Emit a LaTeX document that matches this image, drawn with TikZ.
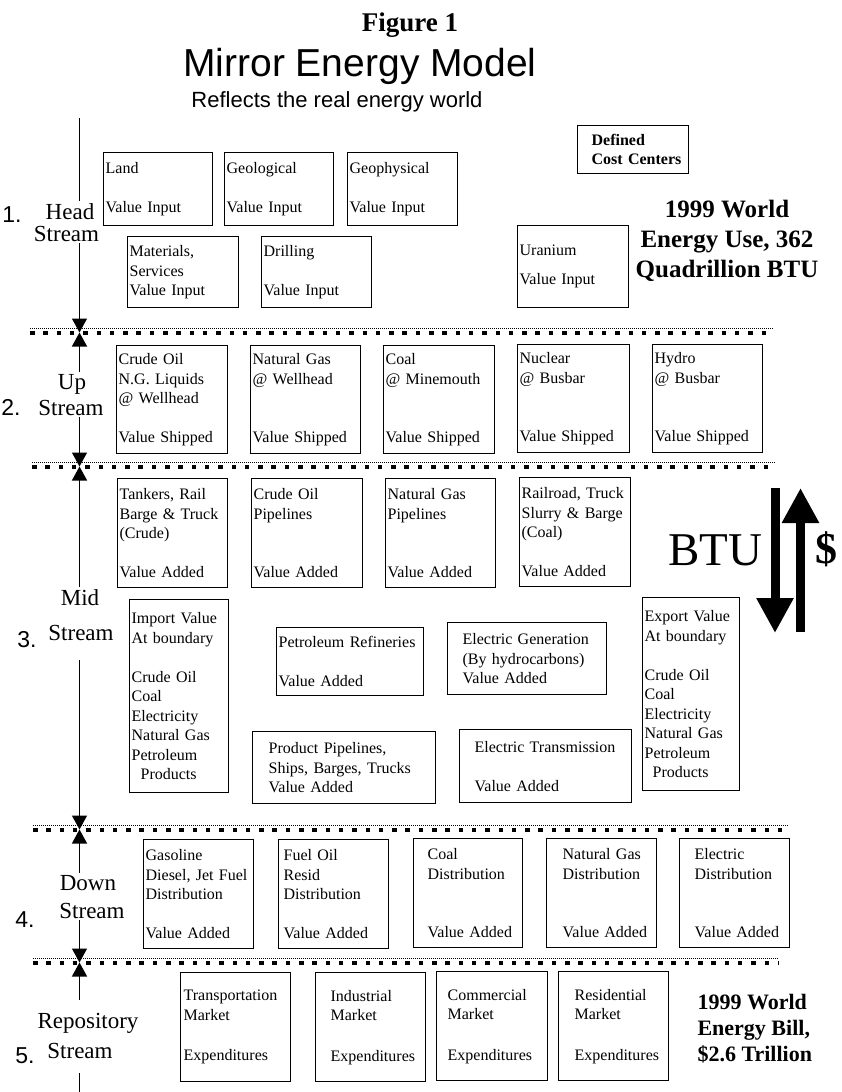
\documentclass[tikz,border=0pt]{standalone}
\usepackage{fontspec}
\setmainfont{Liberation Serif}
\newfontfamily\sansf{Liberation Sans}
\usetikzlibrary{arrows.meta}
\newcommand{\boxfont}{\fontsize{16}{19.5}\selectfont}
\newcommand{\lblfont}{\fontsize{23}{26}\selectfont}
\newcommand{\numfont}{\sansf\fontsize{23}{26}\selectfont}

\begin{document}
\begin{tikzpicture}[x=1pt, y=-1pt,
  cc/.style={draw, line width=1.3pt, anchor=north west, inner xsep=2pt, inner ysep=0pt,
             align=left, text width=106pt, minimum height=109pt, font=\boxfont},
  ind/.style={execute at begin node={\leftskip=#1}},
  lbl/.style={anchor=base, inner sep=2pt, font=\lblfont},
  num/.style={anchor=base, inner sep=2pt, font=\numfont},
  flow/.style={line width=1.3pt, -{Triangle[width=15pt,length=14pt]}},
  fat/.style={line width=9pt, -{Triangle[width=35pt,length=35pt]}},
  dotline/.style={line width=0.8pt, dash pattern=on 0.8pt off 1.2pt},
  sqline/.style={line width=4.5pt, dash pattern=on 4.5pt off 8.8pt}
]
\useasboundingbox (0,0) rectangle (841,1092);

% titles
\node[font=\bfseries\fontsize{27}{30}\selectfont, anchor=base] (fig) at (410,31) {Figure 1};
\node[font=\sansf\fontsize{39}{44}\selectfont, anchor=base] (ttl) at (360,76) {Mirror Energy Model};
\node[font=\sansf\fontsize{22}{26}\selectfont, anchor=base] (sub) at (337,107) {Reflects the real energy world};

% separators between streams
\foreach \y/\xa/\xb/\nm in {333/30/773/s1, 467/32/775/s2, 830/33/788/s3, 963/33/778/s4} {
  \draw[dotline] (\xa,\y-4.5) -- (\xb,\y-4.5);
  \draw[sqline] (\xa,\y) -- (\xb,\y);
  \coordinate (\nm) at (79.5,\y-0.5);
}

% 1. head stream
\node[cc, text width=105pt, minimum height=73pt] (land) at (103,152) {Land\\[19pt]Value Input};
\node[cc, text width=105pt, minimum height=73pt] (geol) at (224,152) {Geological\\[19pt]Value Input};
\node[cc, minimum height=73pt] (geoph) at (347,152) {Geophysical\\[19pt]Value Input};
\node[cc, text width=107pt, minimum height=71pt] (mat) at (127,236) {Materials,\\Services\\Value Input};
\node[cc, minimum height=71pt] (drill) at (261,236) {Drilling\\[19pt]Value Input};
\node[cc, text width=107pt, minimum height=82pt] (uran) at (517,225) {Uranium\\[10pt]Value Input};
\node[cc, ind=12pt, text width=107pt, minimum height=48pt, font=\boxfont\bfseries] (defcc) at (577,125) {Defined\\Cost Centers};
\node[font=\bfseries\fontsize{25}{30}\selectfont, align=center] (use) at (727,241) {1999 World\\Energy Use, 362\\Quadrillion BTU};

% 2. up stream
\node[cc, text width=107pt, minimum height=108pt] (crude) at (116,345) {Crude Oil\\N.G. Liquids\\@ Wellhead\\[19.5pt]Value Shipped};
\node[cc, minimum height=108pt] (natgas) at (250,345) {Natural Gas\\@ Wellhead\\[39pt]Value Shipped};
\node[cc, text width=107pt, minimum height=108pt] (coal) at (383,345) {Coal\\@ Minemouth\\[39pt]Value Shipped};
\node[cc, text width=108pt, minimum height=108pt] (nuclear) at (517,344) {Nuclear\\@ Busbar\\[39pt]Value Shipped};
\node[cc, minimum height=108pt] (hydro) at (652,344) {Hydro\\@ Busbar\\[39pt]Value Shipped};

% 3. mid stream
\node[cc] (tankers) at (117,478) {Tankers, Rail\\Barge \& Truck\\(Crude)\\[19.5pt]Value Added};
\node[cc, text width=107pt] (crudepipe) at (251,478) {Crude Oil\\Pipelines\\[39pt]Value Added};
\node[cc] (gaspipe) at (385,478) {Natural Gas\\Pipelines\\[39pt]Value Added};
\node[cc, text width=107pt] (railroad) at (519,477) {Railroad, Truck\\Slurry \& Barge\\(Coal)\\[19.5pt]Value Added};
\node[cc, text width=95pt, minimum height=193pt] (import) at (129,599)
  {Import Value\\At boundary\\[19.5pt]Crude Oil\\Coal\\Electricity\\Natural Gas\\Petroleum\\\hspace*{9pt}Products};
\node[cc, text width=143pt, minimum height=68pt] (refin) at (276,627) {Petroleum Refineries\\[19pt]Value Added};
\node[cc, ind=13pt, text width=155pt, minimum height=72pt] (elecgen) at (447,622) {Electric Generation\\(By hydrocarbons)\\Value Added};
\node[cc, text width=93pt, minimum height=193pt] (export) at (642,597)
  {Export Value\\At boundary\\[19.5pt]Crude Oil\\Coal\\Electricity\\Natural Gas\\Petroleum\\\hspace*{8pt}Products};
\node[cc, ind=14pt, text width=179pt, minimum height=72pt] (prodpipe) at (252,731) {Product Pipelines,\\Ships, Barges, Trucks\\Value Added};
\node[cc, ind=13pt, text width=168pt, minimum height=73pt] (electrans) at (459,729) {Electric Transmission\\[19.5pt]Value Added};
\coordinate (btuA) at (775,488);
\coordinate (btuB) at (775,633);
\coordinate (usdA) at (800.5,632);
\coordinate (usdB) at (800.5,488);
\draw[fat] (btuA) -- (btuB);
\draw[fat] (usdA) -- (usdB);
\node[font=\fontsize{47}{50}\selectfont, anchor=base] (btu) at (715.5,565) {BTU};
\node[font=\bfseries\fontsize{44}{50}\selectfont, anchor=base] (usd) at (826,563) {\$};

% 4. down stream
\node[cc] (gasoline) at (143,839) {Gasoline\\Diesel, Jet Fuel\\Distribution\\[19.5pt]Value Added};
\node[cc, ind=3pt] (fueloil) at (278,839) {Fuel Oil\\Resid\\Distribution\\[19.5pt]Value Added};
\node[cc, ind=12pt, text width=105pt] (coaldist) at (413,838) {Coal\\Distribution\\[39pt]Value Added};
\node[cc, ind=14pt] (gasdist) at (546,838) {Natural Gas\\Distribution\\[39pt]Value Added};
\node[cc, ind=13pt] (elecdist) at (679,838) {Electric\\Distribution\\[39pt]Value Added};

% 5. repository stream
\node[cc, ind=1pt] (transp) at (180,972) {Transportation\\Market\\[21pt]Expenditures};
\node[cc, ind=13pt] (indus) at (315,972) {Industrial\\Market\\[21pt]Expenditures};
\node[cc, ind=9pt, text width=107pt] (comm) at (436,971) {Commercial\\Market\\[21pt]Expenditures};
\node[cc, ind=14pt] (resid) at (558,971) {Residential\\Market\\[21pt]Expenditures};
\node[font=\bfseries\fontsize{22}{26}\selectfont, align=left, anchor=west] (bill) at (694,1029) {1999 World\\Energy Bill,\\\$2.6 Trillion};

% stream labels
\node[lbl] (hd1) at (70,219) {Head};
\node[lbl] (hd2) at (66.5,241) {Stream};
\node[num] (n1) at (12,222) {1.};
\node[lbl] (up1) at (72,389) {Up};
\node[lbl] (up2) at (71,415) {Stream};
\node[num] (n2) at (11,415) {2.};
\node[lbl] (md1) at (80,605) {Mid};
\node[lbl] (md2) at (81,640) {Stream};
\node[num] (n3) at (27,647) {3.};
\node[lbl] (dn1) at (88,890) {Down};
\node[lbl] (dn2) at (92,918) {Stream};
\node[num] (n4) at (25,927) {4.};
\node[lbl] (rp1) at (88,1028) {Repository};
\node[lbl] (rp2) at (80,1058) {Stream};
\node[num] (n5) at (25,1063) {5.};

% the stream line
\coordinate (spine) at (79.5,0);
\coordinate (top) at (79.5,118);
\coordinate (bot) at (79.5,1092);
\draw[line width=1.3pt] (top) -- (spine |- hd1.north);
\draw[flow] (spine |- hd2.south) -- (s1);
\draw[flow] (spine |- up1.north) -- (s1);
\draw[flow] (spine |- up2.south) -- (s2);
\draw[flow] (spine |- md1.north) -- (s2);
\draw[flow, shorten <=18pt] (spine |- md2.south) -- (s3);
\draw[flow] (spine |- dn1.north) -- (s3);
\draw[flow] (spine |- dn2.south) -- (s4);
\draw[flow, shorten <=11pt] (spine |- rp1.north) -- (s4);
\draw[line width=1.3pt, shorten <=13pt] (spine |- rp2.south) -- (bot);
\end{tikzpicture}
\end{document}
